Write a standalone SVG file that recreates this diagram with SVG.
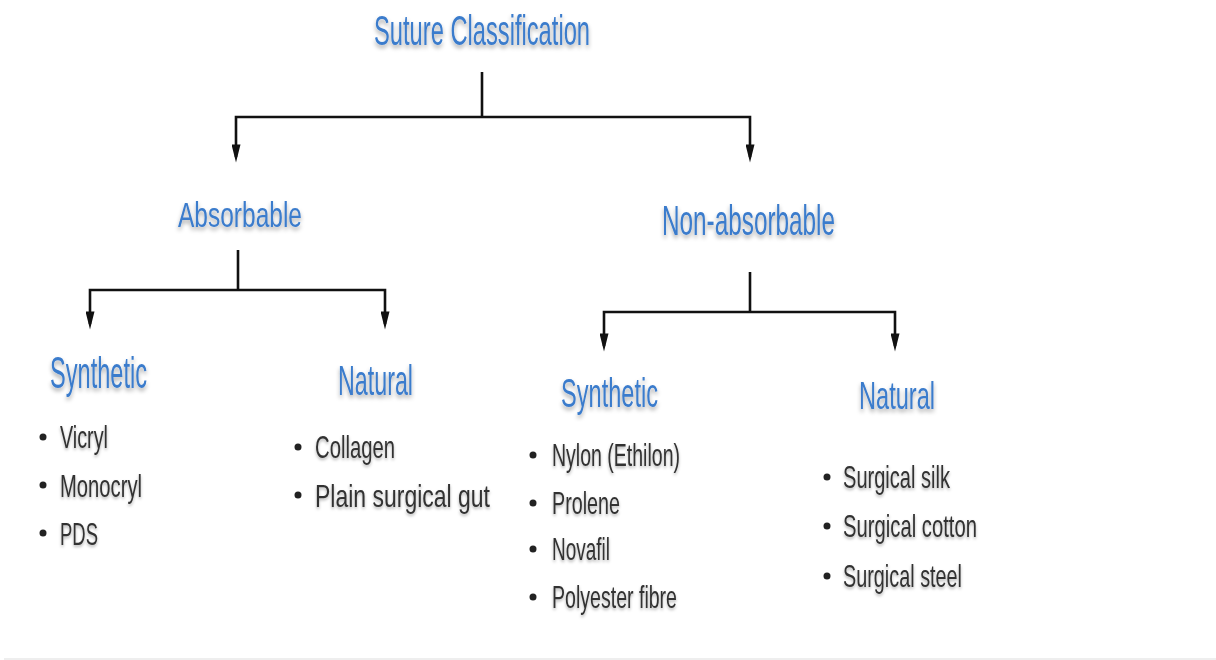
<svg xmlns="http://www.w3.org/2000/svg" width="1216" height="660" viewBox="0 0 1216 660">
<style>
.h{font-family:"Liberation Sans",Arial,sans-serif;fill:#3a7bcc;filter:url(#sh)}
.i{font-family:"Liberation Sans",Arial,sans-serif;fill:#333;font-size:32px;filter:url(#sh2)}
.c{fill:none;stroke:#111;stroke-width:2.6}
.b{fill:#222}
</style>
<defs>
<filter id="sh" x="-5%" y="-10%" width="110%" height="135%">
<feDropShadow dx="0" dy="3" stdDeviation="2" flood-color="#000" flood-opacity="0.35"/>
</filter>
<filter id="sh2" x="-5%" y="-5%" width="110%" height="125%">
<feGaussianBlur stdDeviation="0.5" result="b"/>
<feDropShadow in="b" dx="0" dy="2" stdDeviation="1.5" flood-color="#000" flood-opacity="0.3"/>
</filter>
<marker id="ar" viewBox="0 0 20 10" refX="14" refY="5" markerWidth="20" markerHeight="9" markerUnits="userSpaceOnUse" orient="auto-start-reverse">
<path d="M0,0 L20,5 L0,10 z" fill="#111"/>
</marker>
</defs>
<rect width="1216" height="660" fill="#fff"/>
<rect x="4" y="658" width="1212" height="2" fill="#eee"/>
<g id="connectors">
<path class="c" d="M482,72 V117"/>
<path class="c" d="M236,157 V117 H750 V157" marker-start="url(#ar)" marker-end="url(#ar)"/>
<path class="c" d="M238,250 V290"/>
<path class="c" d="M90,324 V290 H385 V324" marker-start="url(#ar)" marker-end="url(#ar)"/>
<path class="c" d="M750,272 V312"/>
<path class="c" d="M604,346 V312 H895 V346" marker-start="url(#ar)" marker-end="url(#ar)"/>
</g>
<g id="root"><text class="h" x="374" y="45" font-size="42" textLength="216" lengthAdjust="spacingAndGlyphs">Suture Classification</text></g>
<g id="absorbable"><text class="h" x="178" y="227" font-size="35" textLength="124" lengthAdjust="spacingAndGlyphs">Absorbable</text></g>
<g id="nonabsorbable"><text class="h" x="662" y="235" font-size="42" textLength="173" lengthAdjust="spacingAndGlyphs">Non-absorbable</text></g>
<g id="abs-synthetic">
<text class="h" x="50" y="388" font-size="44" textLength="97" lengthAdjust="spacingAndGlyphs">Synthetic</text>
<circle class="b" cx="43" cy="437" r="3.5"/><text class="i" x="60" y="448" textLength="48" lengthAdjust="spacingAndGlyphs">Vicryl</text>
<circle class="b" cx="43" cy="485" r="3.5"/><text class="i" x="60" y="497" textLength="82" lengthAdjust="spacingAndGlyphs">Monocryl</text>
<circle class="b" cx="43" cy="533" r="3.5"/><text class="i" x="60" y="545" textLength="38" lengthAdjust="spacingAndGlyphs">PDS</text>
</g>
<g id="abs-natural">
<text class="h" x="338" y="395" font-size="42" textLength="75" lengthAdjust="spacingAndGlyphs">Natural</text>
<circle class="b" cx="298" cy="447" r="3.5"/><text class="i" x="315" y="458" textLength="80" lengthAdjust="spacingAndGlyphs">Collagen</text>
<circle class="b" cx="298" cy="495" r="3.5"/><text class="i" x="315" y="507" textLength="175" lengthAdjust="spacingAndGlyphs">Plain surgical gut</text>
</g>
<g id="non-synthetic">
<text class="h" x="561" y="407" font-size="41" textLength="97" lengthAdjust="spacingAndGlyphs">Synthetic</text>
<circle class="b" cx="533" cy="455" r="3.5"/><text class="i" x="552" y="466" textLength="128" lengthAdjust="spacingAndGlyphs">Nylon (Ethilon)</text>
<circle class="b" cx="533" cy="503" r="3.5"/><text class="i" x="552" y="514" textLength="68" lengthAdjust="spacingAndGlyphs">Prolene</text>
<circle class="b" cx="533" cy="549" r="3.5"/><text class="i" x="552" y="560" textLength="58" lengthAdjust="spacingAndGlyphs">Novafil</text>
<circle class="b" cx="533" cy="597" r="3.5"/><text class="i" x="552" y="608" textLength="125" lengthAdjust="spacingAndGlyphs">Polyester fibre</text>
</g>
<g id="non-natural">
<text class="h" x="859" y="409" font-size="39" textLength="76" lengthAdjust="spacingAndGlyphs">Natural</text>
<circle class="b" cx="827" cy="477" r="3.5"/><text class="i" x="843" y="488" textLength="107" lengthAdjust="spacingAndGlyphs">Surgical silk</text>
<circle class="b" cx="827" cy="526" r="3.5"/><text class="i" x="843" y="537" textLength="134" lengthAdjust="spacingAndGlyphs">Surgical cotton</text>
<circle class="b" cx="827" cy="576" r="3.5"/><text class="i" x="843" y="587" textLength="119" lengthAdjust="spacingAndGlyphs">Surgical steel</text>
</g>
</svg>
